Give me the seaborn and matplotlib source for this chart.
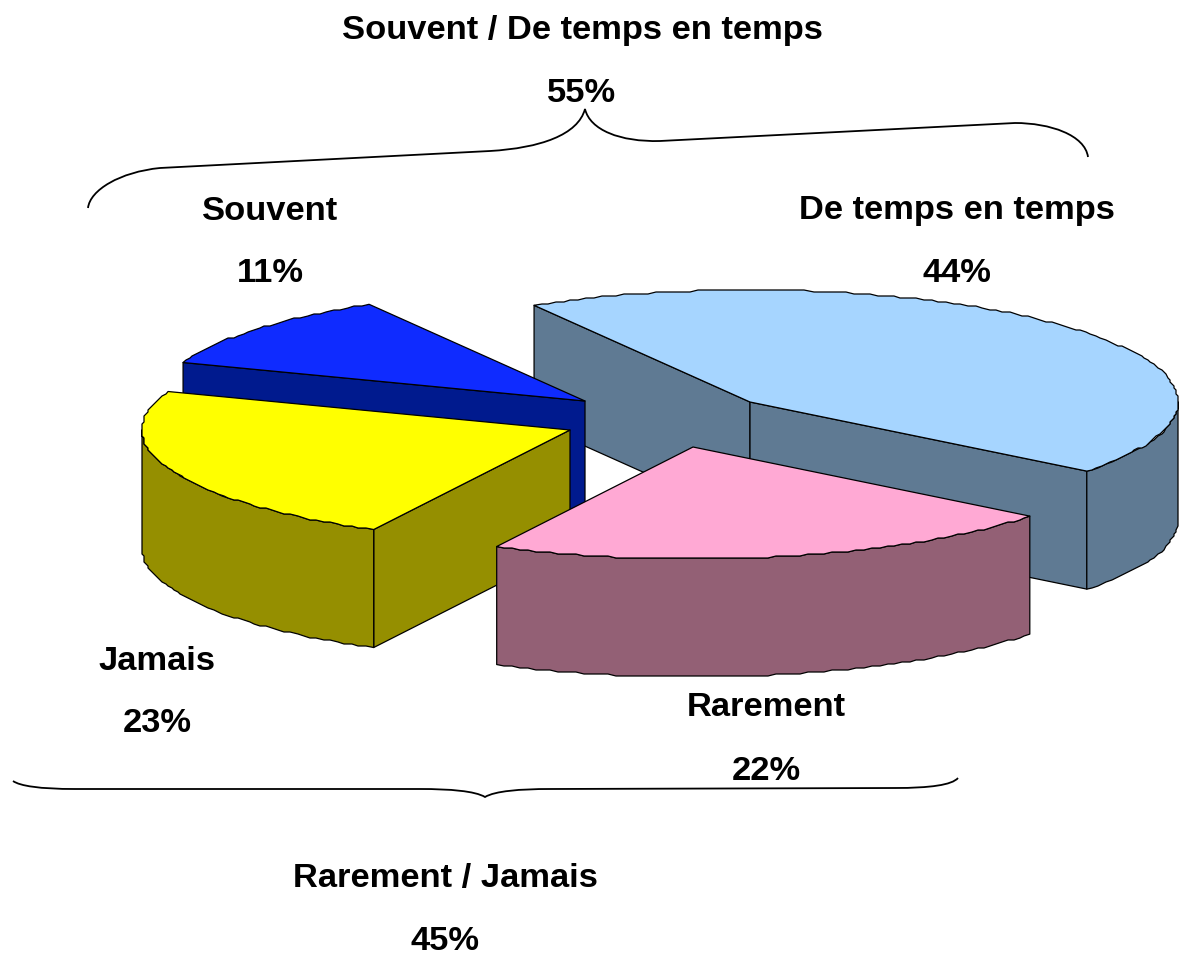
import numpy as np
import seaborn as sns
import matplotlib
matplotlib.use("Agg")
import matplotlib.pyplot as plt
from matplotlib.patches import PathPatch, Polygon
from matplotlib.path import Path

# Pie data, in the clockwise order of the slices
categories = ['De temps en temps', 'Rarement', 'Jamais', 'Souvent']
values = [44, 22, 23, 11]

# Slice colours: top face and side face
top_colors = ['#A6D5FF', '#FFA9D4', '#FFFF00', '#0F2BFF']
side_colors = ['#5F7A93', '#936075', '#958F00', '#001A8E']

sns.set_theme(style='white')
plt.rcParams['font.family'] = ['Liberation Sans', 'DejaVu Sans']

# Apex of each exploded slice, in pixels of the picture
apex_x = [750, 693, 570, 585]
apex_y = [402, 447, 430, 401]
radius_x = 428
radius_y = 112
depth = 118
start_angle = 120.3
label_size = 24.8


def arc(cx, cy, t0, t1):
    # PowerPoint style bumpy rim: sampled coarsely and snapped to a grid
    n = max(int(abs(t1 - t0) / 1.1), 2)
    t = np.radians(np.linspace(t0, t1, n))
    x = cx + radius_x * np.cos(t)
    y = cy - radius_y * np.sin(t)
    x[1:-1] = np.round(x[1:-1] / 2) * 2
    y[1:-1] = np.round(y[1:-1] / 2) * 2
    return np.column_stack([x, y])


def face(ax, pts, color):
    ax.add_patch(Polygon(pts, closed=True, facecolor=color, edgecolor='black',
                         linewidth=0.9, joinstyle='round'))


def wall(ax, cx, cy, t0, t1, color):
    rim = arc(cx, cy, t0, t1)
    low = rim + [0, depth]
    face(ax, np.vstack([rim, low[::-1]]), color)


def cut(ax, cx, cy, t, color):
    edge = arc(cx, cy, t, t + 1)[0]
    face(ax, [(cx, cy), edge, edge + [0, depth], (cx, cy + depth)], color)


fig, ax = plt.subplots(figsize=(11.8, 9.61), dpi=100)
fig.subplots_adjust(left=0, right=1, bottom=0, top=1)
ax.set_xlim(0, 1180)
ax.set_ylim(961, 0)
ax.axis('off')

# Angle of every slice boundary comes from the values
ends = start_angle - np.cumsum(values) * 360 / sum(values)
starts = np.r_[start_angle, ends[:-1]]

# Back to front: De temps en temps, Souvent, Jamais, Rarement
cx, cy = apex_x[0], apex_y[0]
cut(ax, cx, cy, starts[0], side_colors[0])
cut(ax, cx, cy, ends[0], side_colors[0])
wall(ax, cx, cy, ends[0], 0, side_colors[0])

cx, cy = apex_x[3], apex_y[3]
cut(ax, cx, cy, starts[3], side_colors[3])

cx, cy = apex_x[2], apex_y[2]
cut(ax, cx, cy, starts[2], side_colors[2])
wall(ax, cx, cy, -180, starts[2], side_colors[2])

cx, cy = apex_x[1], apex_y[1]
wall(ax, cx, cy, starts[1], ends[1], side_colors[1])

for i in [0, 3, 2, 1]:
    rim = arc(apex_x[i], apex_y[i], starts[i], ends[i])
    face(ax, np.vstack([[(apex_x[i], apex_y[i])], rim]), top_colors[i])

# Braces above and below the pie
M, L, C = Path.MOVETO, Path.LINETO, Path.CURVE4
top_brace = [
    (M, (88, 208)), (C, (90, 190)), (C, (120, 172)), (C, (160, 168)),
    (L, (490, 151)), (C, (540, 148)), (C, (578, 135)), (C, (585, 109)),
    (C, (590, 130)), (C, (620, 142)), (C, (660, 141)),
    (L, (1015, 123)), (C, (1050, 123)), (C, (1085, 135)), (C, (1088, 157)),
]
bottom_brace = [
    (M, (13, 781)), (C, (20, 786)), (C, (40, 789)), (C, (75, 789)),
    (L, (420, 789)), (C, (450, 789)), (C, (475, 791)), (C, (485, 797)),
    (C, (495, 791)), (C, (520, 789)), (C, (550, 789)),
    (L, (895, 788)), (C, (930, 788)), (C, (952, 785)), (C, (958, 778)),
]
for brace in [top_brace, bottom_brace]:
    codes, verts = zip(*brace)
    ax.add_patch(PathPatch(Path(verts, codes), facecolor='none',
                           edgecolor='black', linewidth=1.3))

# Labels: name on one line, share on the next
label_x = [957, 766, 157, 270]
label_y = [211, 708, 661, 211]
for name, val, x, y in zip(categories, values, label_x, label_y):
    ax.text(x, y, name, ha='center', va='center', fontsize=label_size, fontweight='bold', color='black')
    ax.text(x, y + 63, f'{val}%', ha='center', va='center', fontsize=label_size, fontweight='bold', color='black')

high = values[0] + values[3]
low = values[1] + values[2]
ax.text(582, 31, 'Souvent / De temps en temps', ha='center', va='center', fontsize=label_size, fontweight='bold', color='black')
ax.text(582, 94, f'{high}%', ha='center', va='center', fontsize=label_size, fontweight='bold', color='black')
ax.text(445, 879, 'Rarement / Jamais', ha='center', va='center', fontsize=label_size, fontweight='bold', color='black')
ax.text(445, 942, f'{low}%', ha='center', va='center', fontsize=label_size, fontweight='bold', color='black')

fig.savefig('out.png', dpi=100, facecolor='white')
plt.close(fig)
